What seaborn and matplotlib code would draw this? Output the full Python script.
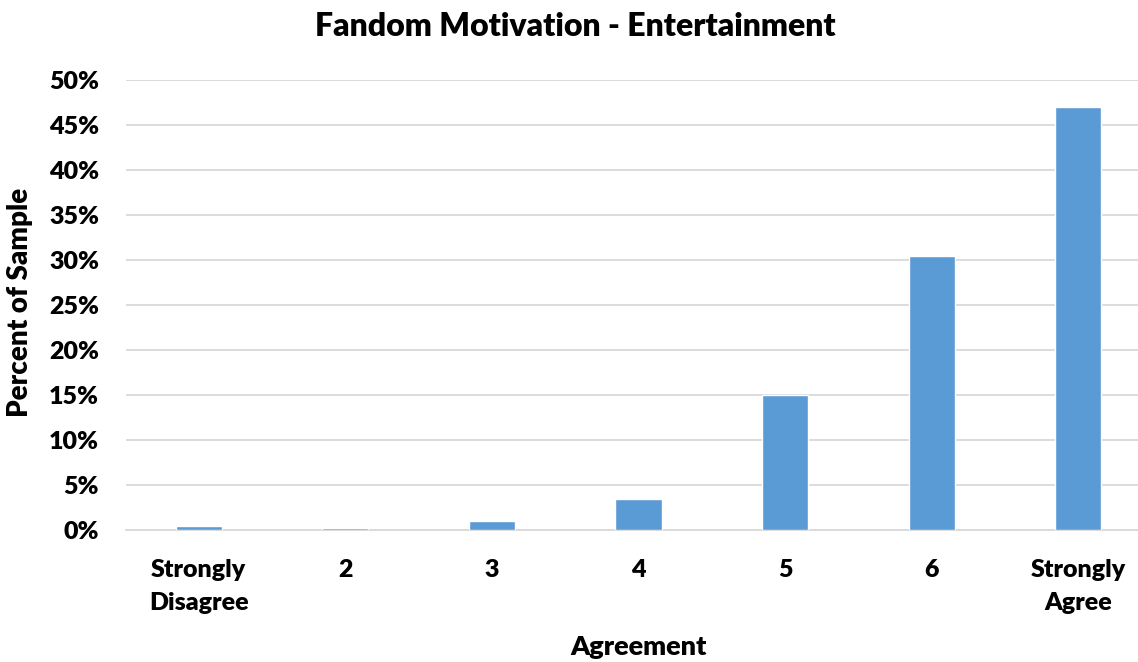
import matplotlib
matplotlib.use("Agg")
import matplotlib.pyplot as plt
import seaborn as sns
import pandas as pd
from matplotlib.ticker import PercentFormatter, MultipleLocator

categories = ["Strongly\nDisagree", "2", "3", "4", "5", "6", "Strongly\nAgree"]
percent = [0.45, 0.22, 0.96, 3.45, 15.0, 30.4, 47.0]

sns.set_theme(style="white")
plt.rcParams['font.family'] = ['Lato', 'DejaVu Sans']
plt.rcParams['text.color'] = 'black'
plt.rcParams['axes.labelcolor'] = 'black'

df = pd.DataFrame({"Agreement": categories, "Percent": percent})

fig = plt.figure(figsize=(11.38, 6.62), dpi=100)
ax = fig.add_axes([125.5/1138, 132/662, 1026/1138, 450/662])

sns.barplot(data=df, x="Agreement", y="Percent", color="#5B9BD5",
            width=0.315, saturation=1, ax=ax, zorder=3)

ax.set_ylim(0, 50)
ax.set_xlim(-0.5, len(categories) - 0.5)
ax.yaxis.set_major_locator(MultipleLocator(5))
ax.yaxis.set_major_formatter(PercentFormatter(decimals=0))
ax.grid(axis="y", color="#D9D9D9", linewidth=1.3, zorder=0)
ax.set_axisbelow(True)
for s in ["top", "right", "left"]:
    ax.spines[s].set_visible(False)
ax.spines["bottom"].set_color("#D9D9D9")
ax.spines["bottom"].set_linewidth(1.3)
ax.tick_params(axis="both", length=0, labelsize=18, colors="black")
ax.tick_params(axis="y", pad=19)
ax.tick_params(axis="x", pad=21)
for lbl in ax.get_xticklabels() + ax.get_yticklabels():
    lbl.set_fontweight("heavy")
    lbl.set_linespacing(1.6)

ax.set_xlabel("Agreement", fontsize=19.5, fontweight="heavy", labelpad=0)
ax.xaxis.set_label_coords(0.5, -(647 - 530) / 450)
ax.xaxis.label.set_va("center")
ax.set_ylabel("Percent of Sample", fontsize=20, fontweight="heavy", labelpad=0)
ax.yaxis.set_label_coords(-92/1026, (530 - 302) / 450)
fig.text(575/1138, 1 - 27/662, "Fandom Motivation - Entertainment",
         ha="center", va="center", fontsize=23, fontweight="heavy")

fig.savefig("out.png", dpi=100)
